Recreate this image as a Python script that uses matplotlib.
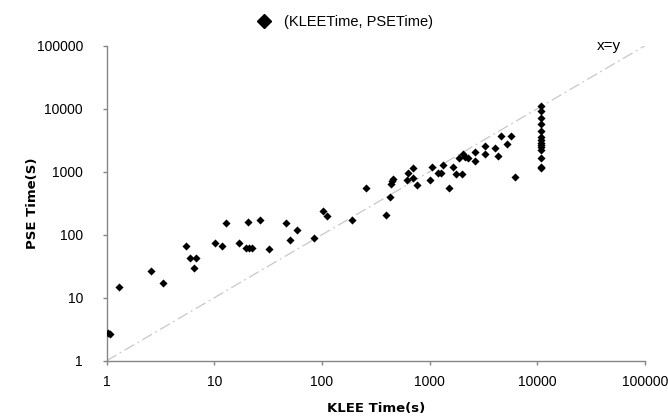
import matplotlib
matplotlib.use("Agg")
import matplotlib.pyplot as plt
from matplotlib.lines import Line2D

# KLEE time (s) vs PSE time (s)
klee_time = [1.03, 1.07, 1.31, 2.58, 3.36, 5.46, 5.9, 6.76, 6.52, 10.2,
             11.7, 12.9, 17.1, 19.7, 21.0, 22.6, 20.7, 26.8, 32.2, 46.7,
             50.2, 59, 83.9, 101.7, 111, 190, 257, 397, 432, 436,
             445, 455, 614, 632, 703, 703, 765, 1004, 1055, 1192,
             1279, 1343, 1496, 1630, 1751, 1991, 1879, 2036, 2137, 2246,
             2609, 2609, 3260, 3260, 4036, 4356, 4617, 5250, 5637, 6137]
pse_time = [2.8, 2.7, 14.6, 26.5, 16.9, 65, 42, 42, 30, 73,
            67, 153, 73, 61, 61, 61, 157, 171, 59, 153,
            82, 120, 88, 238, 198, 171, 551, 208, 396, 645,
            700, 757, 738, 943, 1132, 794, 608, 738, 1200, 964,
            943, 1277, 557, 1200, 909, 909, 1632, 1890, 1730, 1632,
            2033, 1479, 2530, 1890, 2378, 1755, 3727, 2722, 3647, 833]

# runs that hit the KLEE timeout
timeout_klee = 10800
timeout_pse = [10920, 9290, 7040, 5650, 4375, 3595, 3185, 2825, 2655,
               2495, 2210, 1632, 1200, 1157]

ticks = [1, 10, 100, 1000, 10000, 100000]
tick_labels = ["1", "10", "100", "1000", "10000", "100000"]

fig = plt.figure(figsize=(6.68, 4.19), dpi=100)
ax = fig.add_axes([0.1597, 0.1391, 0.8059, 0.7519])

ax.set_xscale("log")
ax.set_yscale("log")
ax.set_xlim(1, 100000)
ax.set_ylim(1, 100000)

# x = y reference line
ax.plot([1, 100000], [1, 100000], color="#c8c8c8", lw=0.9,
        linestyle=(0, (9, 3, 1.5, 3)), zorder=1)

all_x = klee_time + [timeout_klee] * len(timeout_pse)
all_y = pse_time + timeout_pse
ax.scatter(all_x, all_y, marker="D", s=17, color="black", zorder=3,
           linewidths=0)

ax.set_xticks(ticks)
ax.set_xticklabels(tick_labels)
ax.set_yticks(ticks)
ax.set_yticklabels(tick_labels)
ax.minorticks_off()

for side in ["top", "right"]:
    ax.spines[side].set_visible(False)
for side in ["left", "bottom"]:
    ax.spines[side].set_color("#868686")
    ax.spines[side].set_linewidth(1.0)
ax.tick_params(axis="both", direction="out", length=3, width=1,
               color="#868686", labelsize=10)
ax.tick_params(axis="x", pad=7)
ax.tick_params(axis="y", pad=14)
for lab in ax.get_xticklabels() + ax.get_yticklabels():
    lab.set_family("Liberation Sans")

ax.set_xlabel("KLEE Time(s)", fontsize=9.5, fontweight="bold",
              family="DejaVu Sans", labelpad=10)
ax.set_ylabel("PSE Time(S)", fontsize=9.5, fontweight="bold",
              family="DejaVu Sans", labelpad=-2)

ax.text(0.933, 0.999, "x=y", transform=ax.transAxes, ha="center",
        va="center", fontsize=11, family="Liberation Sans")

handle = Line2D([], [], marker="D", color="black", linestyle="none",
                markersize=7)
fig.legend([handle], ["(KLEETime, PSETime)"], loc="center",
           bbox_to_anchor=(0.511, 0.947), frameon=False,
           prop={"family": "Liberation Sans", "size": 10.5},
           handletextpad=0.4)

fig.savefig("out.png", dpi=100)
